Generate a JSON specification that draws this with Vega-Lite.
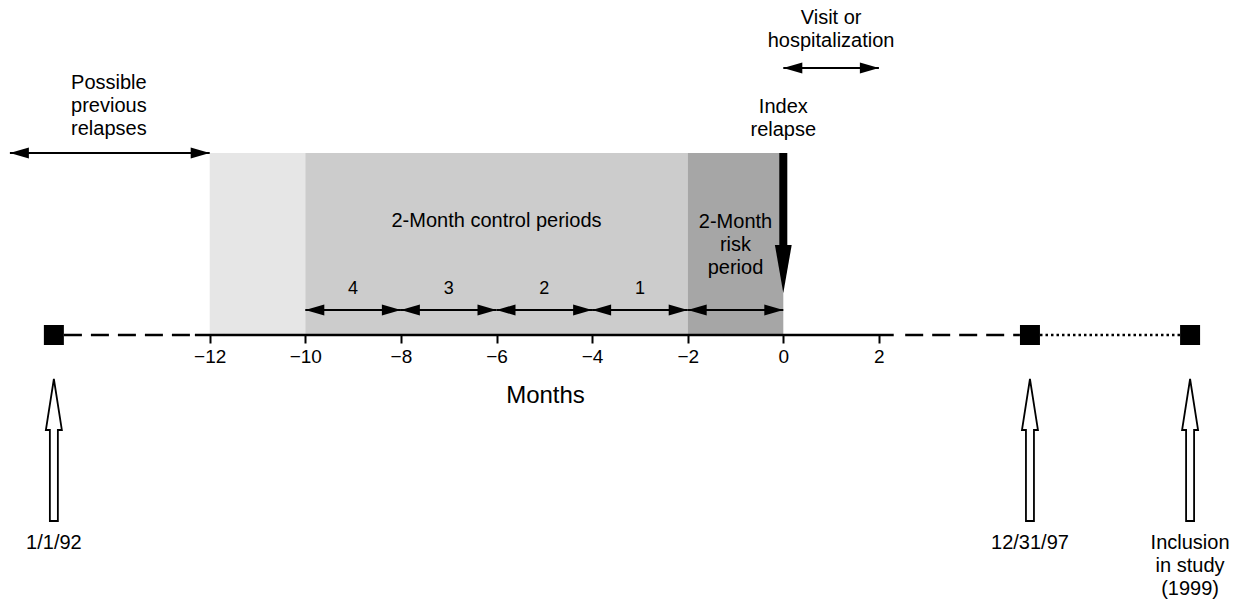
{
  "$schema": "https://vega.github.io/schema/vega-lite/v6.json",
  "width": 1243,
  "height": 602,
  "autosize": {"type": "none"},
  "padding": 0,
  "background": "white",
  "config": {"view": {"stroke": null}, "font": "Liberation Sans"},
  "datasets": {
    "zones": [
      {"start": -12, "end": -10, "zone": "lead-in"},
      {"start": -10, "end": -2, "zone": "control"},
      {"start": -2, "end": 0, "zone": "risk"}
    ],
    "baseline": [
      {"from": -15.05, "to": -12.31, "kind": "dashed"},
      {"from": -12.31, "to": 2.31, "kind": "solid"},
      {"from": 2.55, "to": 4.95, "kind": "dashed"},
      {"from": 5.37, "to": 8.3, "kind": "dotted"}
    ],
    "milestones": [
      {"month": -15.26, "label": "1/1/92"},
      {"month": 5.16, "label": "12/31/97"},
      {"month": 8.51, "label": "Inclusion\nin study\n(1999)"}
    ],
    "arrows": [
      {"from": -16.18, "to": -12, "level": 18.2},
      {"from": 0, "to": 2, "level": 26.7},
      {"from": -10, "to": -8, "level": 2.5},
      {"from": -8, "to": -6, "level": 2.5},
      {"from": -6, "to": -4, "level": 2.5},
      {"from": -4, "to": -2, "level": 2.5},
      {"from": -2, "to": 0, "level": 2.5}
    ],
    "index": [
      {"month": 0, "top": 18.2, "shaftEnd": 9.0, "tip": 4.2}
    ],
    "labels": [
      {"month": -14.11, "level": 25.2, "text": "Possible\nprevious\nrelapses", "size": "big"},
      {"month": 1.0, "level": 31.7, "text": "Visit or\nhospitalization", "size": "big"},
      {"month": 0, "level": 22.8, "text": "Index\nrelapse", "size": "big"},
      {"month": -1, "level": 11.3, "text": "2-Month\nrisk\nperiod", "size": "big"},
      {"month": -6, "level": 11.4, "text": "2-Month control periods", "size": "big"},
      {"month": -9, "level": 4.6, "text": "4", "size": "small"},
      {"month": -7, "level": 4.6, "text": "3", "size": "small"},
      {"month": -5, "level": 4.6, "text": "2", "size": "small"},
      {"month": -3, "level": 4.6, "text": "1", "size": "small"},
      {"month": -15.26, "level": -20.8, "text": "1/1/92", "size": "big"},
      {"month": 5.16, "level": -20.8, "text": "12/31/97", "size": "big"},
      {"month": 8.51, "level": -20.8, "text": "Inclusion\nin study\n(1999)", "size": "big"}
    ]
  },
  "layer": [
    {
      "data": {"name": "zones"},
      "mark": {"type": "rect"},
      "encoding": {
        "x": {
          "field": "start", "type": "quantitative",
          "scale": {"domain": [-16.387, 9.617], "nice": false, "zero": false},
          "axis": {
            "orient": "bottom",
            "offset": -267,
            "values": [-12, -10, -8, -6, -4, -2, 0, 2],
            "format": "d",
            "domain": false,
            "grid": false,
            "tickSize": 8,
            "tickWidth": 2,
            "tickColor": "black",
            "labelColor": "black",
            "labelFontSize": 19,
            "labelPadding": 4,
            "labelFont": "Liberation Sans",
            "title": "Months",
            "titleFont": "Liberation Sans",
            "titleFontSize": 24,
            "titleFontWeight": "normal",
            "titleColor": "black",
            "titleX": 545,
            "titleY": 60,
            "titleAlign": "center",
            "titleBaseline": "middle"
          }
        },
        "x2": {"field": "end"},
        "y": {
          "datum": 0, "type": "quantitative",
          "scale": {"domain": [-26.7, 33.5], "nice": false, "zero": false},
          "axis": null
        },
        "y2": {"datum": 18.2},
        "color": {
          "field": "zone", "type": "nominal",
          "scale": {"domain": ["lead-in", "control", "risk"], "range": ["#e6e6e6", "#cccccc", "#a6a6a6"]},
          "legend": null
        }
      }
    },
    {
      "data": {"name": "baseline"},
      "mark": {"type": "rule", "strokeWidth": 2.5, "color": "black"},
      "encoding": {
        "x": {"field": "from", "type": "quantitative"},
        "x2": {"field": "to"},
        "y": {"datum": 0, "type": "quantitative"},
        "strokeDash": {
          "field": "kind", "type": "nominal",
          "scale": {"domain": ["solid", "dashed", "dotted"], "range": [[1, 0], [18, 9], [2.5, 3]]},
          "legend": null
        }
      }
    },
    {
      "data": {"name": "milestones"},
      "mark": {"type": "point", "shape": "square", "size": 400, "filled": true, "color": "black", "opacity": 1},
      "encoding": {
        "x": {"field": "month", "type": "quantitative"},
        "y": {"datum": 0, "type": "quantitative"}
      }
    },
    {
      "data": {"name": "milestones"},
      "mark": {"type": "point", "shape": "M0,0L8,51L4,51L4,142L-4,142L-4,51L-8,51Z", "size": 4, "filled": true, "fill": "white", "stroke": "black", "strokeWidth": 1.8, "opacity": 1, "fillOpacity": 1, "strokeOpacity": 1},
      "encoding": {
        "x": {"field": "month", "type": "quantitative"},
        "y": {"datum": -4.4, "type": "quantitative"}
      }
    },
    {
      "data": {"name": "arrows"},
      "mark": {"type": "rule", "strokeWidth": 2, "color": "black"},
      "encoding": {
        "x": {"field": "from", "type": "quantitative"},
        "x2": {"field": "to"},
        "y": {"field": "level", "type": "quantitative"}
      }
    },
    {
      "data": {"name": "arrows"},
      "mark": {"type": "point", "shape": "M0,0L2,-0.58L2,0.58Z", "size": 361, "filled": true, "color": "black", "opacity": 1},
      "encoding": {
        "x": {"field": "from", "type": "quantitative"},
        "y": {"field": "level", "type": "quantitative"}
      }
    },
    {
      "data": {"name": "arrows"},
      "mark": {"type": "point", "shape": "M0,0L-2,-0.58L-2,0.58Z", "size": 361, "filled": true, "color": "black", "opacity": 1},
      "encoding": {
        "x": {"field": "to", "type": "quantitative"},
        "y": {"field": "level", "type": "quantitative"}
      }
    },
    {
      "data": {"name": "index"},
      "mark": {"type": "rule", "strokeWidth": 8, "color": "black"},
      "encoding": {
        "x": {"field": "month", "type": "quantitative"},
        "y": {"field": "top", "type": "quantitative"},
        "y2": {"field": "shaftEnd"}
      }
    },
    {
      "data": {"name": "index"},
      "mark": {"type": "point", "shape": "M0,0L-0.35,-2L0.35,-2Z", "size": 2304, "filled": true, "color": "black", "opacity": 1},
      "encoding": {
        "x": {"field": "month", "type": "quantitative"},
        "y": {"field": "tip", "type": "quantitative"}
      }
    },
    {
      "data": {"name": "labels"},
      "mark": {"type": "text", "align": "center", "baseline": "middle", "lineBreak": "\n", "lineHeight": 23, "color": "black", "font": "Liberation Sans"},
      "encoding": {
        "x": {"field": "month", "type": "quantitative"},
        "y": {"field": "level", "type": "quantitative"},
        "text": {"field": "text"},
        "size": {
          "field": "size", "type": "nominal",
          "scale": {"domain": ["big", "small"], "range": [20, 18]},
          "legend": null
        }
      }
    }
  ]
}
